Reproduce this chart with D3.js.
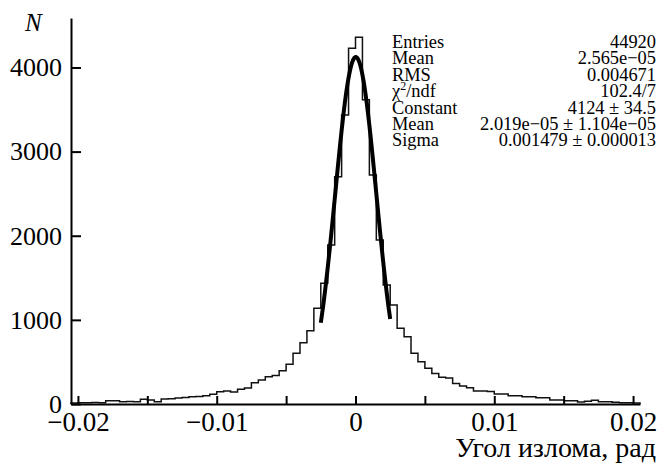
<!DOCTYPE html>
<html>
<head>
<meta charset="utf-8">
<script src="https://cdn.jsdelivr.net/npm/d3@7"></script>
<style>
  body { margin: 0; background: #fff; }
  svg { display: block; }
</style>
</head>
<body>
<svg id="chart" width="658" height="463"></svg>
<script>

// histogram: 82 bins of 0.0005 starting at -0.0205
var binLow = -0.0205;
var binWidth = 0.0005;
var counts = [
  12, 15, 15, 18, 15, 38, 40, 28, 30, 27,
  55, 48, 28, 60, 63, 72, 76, 85, 90, 99,
  115, 147, 155, 143, 174, 190, 253, 285, 325, 340,
  396, 471, 602, 729, 871, 1138, 1435, 1890, 2700, 3436,
  4229, 4360, 3615, 2723, 1950, 1415, 1177, 900, 800, 602,
  503, 424, 364, 317, 310, 245, 214, 194, 154, 155,
  150, 119, 118, 99, 99, 87, 87, 75, 75, 48,
  48, 40, 40, 24, 32, 44, 28, 28, 20, 16,
  16, 12
];

var xTicks = [-0.02, -0.015, -0.01, -0.005, 0, 0.005, 0.01, 0.015, 0.02];
var xTickLabels = ["\u22120.02", "", "\u22120.01", "", "0", "", "0.01", "", "0.02"];
var yTicks = [0, 1000, 2000, 3000, 4000];
var yTickLabels = ["0", "1000", "2000", "3000", "4000"];

// stats box
var statNames = ["Entries", "Mean", "RMS", "\u03c7^2/ndf", "Constant", "Mean", "Sigma"];
var statValues = ["44920", "2.565e\u221205", "0.004671", "102.4/7", "4124 \u00b1 34.5",
                  "2.019e\u221205 \u00b1 1.104e\u221205", "0.001479 \u00b1 0.000013"];

// gaussian fit parameters (from the stats box)
var fitConstant = 4124;
var fitMean = 2.019e-05;
var fitSigma = 0.001479;
var fitRange = [-0.0025, 0.0025];

var xTitle = "Угол излома, рад";
var yTitle = "N";

var font = "'Liberation Serif', 'Times New Roman', serif";
var svg = d3.select("#chart");

var x = d3.scaleLinear().domain([binLow, binLow + counts.length * binWidth]).range([71, 640]);
var y = d3.scaleLinear().domain([0, 4588]).range([404, 18]);

// step outline of the histogram
var pts = [[x(binLow), y(0)]];
counts.forEach(function(c, i) {
  var x0 = binLow + i * binWidth;
  pts.push([x(x0), y(c)]);
  pts.push([x(x0 + binWidth), y(c)]);
});
pts.push([x(binLow + counts.length * binWidth), y(0)]);

svg.append("path")
  .attr("d", d3.line()(pts))
  .attr("fill", "none")
  .attr("stroke", "#111")
  .attr("stroke-width", 1.5);

// fit curve
var fitPts = d3.range(0, 101).map(function(i) {
  var v = fitRange[0] + (fitRange[1] - fitRange[0]) * i / 100;
  var g = fitConstant * Math.exp(-0.5 * Math.pow((v - fitMean) / fitSigma, 2));
  return [x(v), y(g)];
});
svg.append("path")
  .attr("d", d3.line()(fitPts))
  .attr("fill", "none")
  .attr("stroke", "#000")
  .attr("stroke-width", 4)
  .attr("stroke-linejoin", "round");

// axes
var xAxis = svg.append("g")
  .attr("transform", "translate(0,404)")
  .call(d3.axisBottom(x).tickValues(xTicks)
    .tickFormat(function(d, i) { return xTickLabels[i]; })
    .tickSize(-8).tickSizeOuter(0).tickPadding(8));
var yAxis = svg.append("g")
  .attr("transform", "translate(71,0)")
  .call(d3.axisLeft(y).tickValues(yTicks)
    .tickFormat(function(d, i) { return yTickLabels[i]; })
    .tickSize(-10).tickSizeOuter(0).tickPadding(9));

xAxis.attr("font-size", 27);
yAxis.attr("font-size", 26);
[xAxis, yAxis].forEach(function(g) {
  g.attr("font-family", font);
  g.selectAll("path, line").attr("stroke", "#000").attr("stroke-width", 2);
  g.selectAll("text").attr("fill", "#000");
});

// axis titles
svg.append("text")
  .attr("x", 656).attr("y", 457)
  .attr("text-anchor", "end")
  .attr("font-family", font).attr("font-size", 28)
  .text(xTitle);
svg.append("text")
  .attr("x", 25).attr("y", 31)
  .attr("font-family", font).attr("font-size", 25)
  .attr("font-style", "italic")
  .text(yTitle);

// stats box text
var stats = svg.append("g").attr("font-family", font).attr("font-size", 18.4).attr("fill", "#000");
statNames.forEach(function(name, i) {
  var yy = 48 + i * 16.4;
  var t = stats.append("text").attr("x", 392).attr("y", yy);
  var parts = name.split("^");
  if (parts.length > 1) {
    t.append("tspan").text(parts[0]);
    t.append("tspan").attr("dy", -7).attr("font-size", 12).text(parts[1].charAt(0));
    t.append("tspan").attr("dy", 7).text(parts[1].slice(1));
  } else {
    t.text(name);
  }
  stats.append("text")
    .attr("x", 656).attr("y", yy)
    .attr("text-anchor", "end")
    .text(statValues[i]);
});

</script>
</body>
</html>
